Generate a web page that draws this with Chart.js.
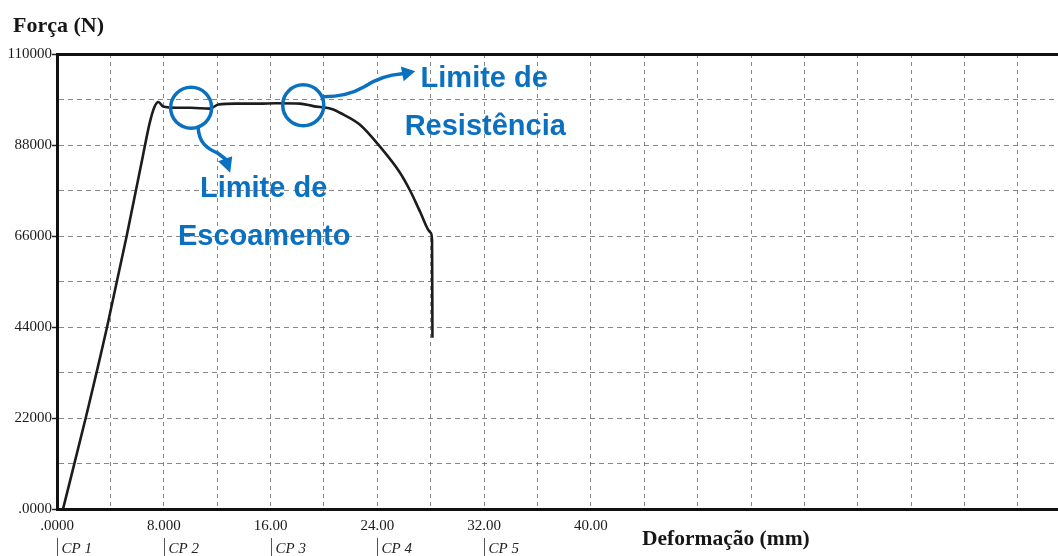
<!DOCTYPE html>
<html>
<head>
<meta charset="utf-8">
<script src="https://cdn.jsdelivr.net/npm/chart.js@4.4.1/dist/chart.umd.min.js"></script>
<style>
  html, body { margin: 0; padding: 0; background: #fff; overflow: hidden; }
  #wrap { position: relative; width: 1058px; height: 556px; }
</style>
</head>
<body>
<div id="wrap"><canvas id="grafico" width="1058" height="556"></canvas></div>
<script>
// Ensaio de tração: força (N) x deformação (mm)
const deformacao = [0.45, 2.15, 3.75, 5.22, 6.45, 6.95, 7.3, 7.6, 7.95, 9.0, 10.0, 11.45, 12.1, 13.4, 15.2, 16.4, 18.2, 19.2, 20.7, 21.2, 22.7, 24.2, 25.7, 26.5, 27.2, 28.0, 28.1, 28.13];
const forca      = [0, 22000, 44000, 66000, 85600, 93400, 97200, 98400, 97300, 97000, 97000, 96800, 97800, 98000, 98000, 98100, 98000, 97400, 96600, 95800, 92900, 87600, 81300, 76700, 71900, 66800, 65100, 41400];

// Eixos
const xGrade   = [0, 4, 8, 12, 16, 20, 24, 28, 32, 36, 40, 44, 48, 52, 56, 60, 64, 68, 72];
const xValores = [0, 8, 16, 24, 32, 40];
const xRotulos = ['.0000', '8.000', '16.00', '24.00', '32.00', '40.00'];
const yGrade   = [0, 11000, 22000, 33000, 44000, 55000, 66000, 77000, 88000, 99000, 110000];
const yValores = [0, 22000, 44000, 66000, 88000, 110000];
const yRotulos = ['.0000', '22000', '44000', '66000', '88000', '110000'];

// Corpos de prova marcados sob o eixo x
const cpPosicao = [0, 8, 16, 24, 32];
const cpRotulo  = ['CP 1', 'CP 2', 'CP 3', 'CP 4', 'CP 5'];

// Pontos destacados na curva
const marcoX = [10.05, 18.45];
const marcoY = [97000, 97600];
const marcoLinha1 = ['Limite de', 'Limite de'];
const marcoLinha2 = ['Escoamento', 'Resistência'];

const SERIF = "'Liberation Serif', 'DejaVu Serif', serif";
const SANS  = "'Liberation Sans', Arial, sans-serif";
const GRADE = 'rgba(85,85,85,0.7)';
const AZUL  = '#0a70c0';

// Setas: início, segmentos bézier (3 pontos cada) e ponta, relativos ao centro do círculo
const setas = [
  { ini: [7, 20], seg: [[8, 35], [16, 41], [26, 45]], fim: [34, 51], ponta: [39, 65] },
  { ini: [20, -8.5], seg: [[37, -8.5], [49, -11.5], [61, -18.5], [73, -26.5], [85, -30.5], [99, -31.5]], fim: [99, -31.5], ponta: [112, -34] }
];
const textos = [
  [[72.5, 89], [73, 137]],
  [[181, -18.3], [182, 29.7]]
];

const anotacoes = {
  id: 'anotacoes',
  afterDatasetsDraw(chart) {
    const { ctx, scales: { x, y } } = chart;
    ctx.save();
    ctx.strokeStyle = AZUL;
    ctx.fillStyle = AZUL;
    ctx.lineCap = 'round';
    ctx.lineJoin = 'round';
    marcoX.forEach((mx, i) => {
      const cx = x.getPixelForValue(mx);
      const cy = y.getPixelForValue(marcoY[i]);
      ctx.lineWidth = 3.5;
      ctx.beginPath();
      ctx.arc(cx, cy, 20.5, 0, Math.PI * 2);
      ctx.stroke();

      const s = setas[i];
      ctx.beginPath();
      ctx.moveTo(cx + s.ini[0], cy + s.ini[1]);
      for (let k = 0; k < s.seg.length; k += 3) {
        const a = s.seg[k], b = s.seg[k + 1], c = s.seg[k + 2];
        ctx.bezierCurveTo(cx + a[0], cy + a[1], cx + b[0], cy + b[1], cx + c[0], cy + c[1]);
      }
      ctx.lineTo(cx + s.fim[0], cy + s.fim[1]);
      ctx.stroke();

      const bx = cx + s.fim[0], by = cy + s.fim[1];
      const tx = cx + s.ponta[0], ty = cy + s.ponta[1];
      const dx = tx - bx, dy = ty - by, len = Math.hypot(dx, dy);
      const nx = -dy / len * 7.5, ny = dx / len * 7.5;
      ctx.beginPath();
      ctx.moveTo(tx, ty);
      ctx.lineTo(bx + nx, by + ny);
      ctx.lineTo(bx - nx, by - ny);
      ctx.closePath();
      ctx.fill();

      ctx.font = 'bold 29px ' + SANS;
      ctx.textAlign = 'center';
      ctx.textBaseline = 'alphabetic';
      const t = textos[i];
      ctx.fillText(marcoLinha1[i], cx + t[0][0], cy + t[0][1]);
      ctx.fillText(marcoLinha2[i], cx + t[1][0], cy + t[1][1]);
    });
    ctx.restore();
  }
};

const legendas = {
  id: 'legendas',
  afterDraw(chart) {
    const { ctx, scales: { x } } = chart;
    ctx.save();
    ctx.fillStyle = '#161616';
    ctx.textAlign = 'left';
    ctx.textBaseline = 'alphabetic';
    ctx.font = 'bold 22px ' + SERIF;
    ctx.fillText('Força (N)', 13, 32);
    ctx.font = 'bold 21.5px ' + SERIF;
    ctx.fillText('Deformação (mm)', 642, 545);

    ctx.font = 'italic 15px ' + SERIF;
    ctx.strokeStyle = '#555';
    ctx.lineWidth = 1;
    cpPosicao.forEach((v, i) => {
      const px = Math.round(x.getPixelForValue(v)) + 0.5;
      ctx.beginPath();
      ctx.moveTo(px, 538);
      ctx.lineTo(px, 556);
      ctx.stroke();
      ctx.fillStyle = '#222';
      ctx.fillText(cpRotulo[i], px + 4, 553);
    });
    ctx.restore();
  }
};

const pontos = deformacao.map((d, i) => ({ x: d, y: forca[i] }));

new Chart(document.getElementById('grafico'), {
  type: 'scatter',
  data: {
    datasets: [{
      data: pontos,
      showLine: true,
      borderColor: '#1c1c1c',
      borderWidth: 2.6,
      pointRadius: 0,
      cubicInterpolationMode: 'monotone',
      fill: false
    }]
  },
  options: {
    responsive: false,
    animation: false,
    layout: { padding: { top: 54, right: 0, left: 0, bottom: 0 } },
    plugins: { legend: { display: false }, tooltip: { enabled: false } },
    scales: {
      x: {
        type: 'linear',
        min: 0,
        max: 75,
        afterBuildTicks: (s) => { s.ticks = xGrade.map(v => ({ value: v })); },
        afterFit: (s) => { s.height = 47; },
        ticks: {
          autoSkip: false,
          maxRotation: 0,
          padding: 8,
          color: '#1a1a1a',
          font: { family: SERIF, size: 15 },
          callback: (v) => { const k = xValores.indexOf(v); return k >= 0 ? xRotulos[k] : ''; }
        },
        grid: {
          drawTicks: false,
          lineWidth: 1,
          color: (c) => (c.tick && c.tick.value === 0 ? 'rgba(0,0,0,0)' : GRADE)
        },
        border: { display: true, color: '#111', width: 3, dash: [4, 4] }
      },
      y: {
        type: 'linear',
        min: 0,
        max: 110000,
        afterBuildTicks: (s) => { s.ticks = yGrade.map(v => ({ value: v })); },
        afterFit: (s) => { s.width = 57; },
        ticks: {
          autoSkip: false,
          padding: 0,
          color: '#1a1a1a',
          font: { family: SERIF, size: 15 },
          callback: (v) => { const k = yValores.indexOf(v); return k >= 0 ? yRotulos[k] : ''; }
        },
        grid: {
          tickLength: 5,
          tickWidth: 1.5,
          tickColor: (c) => (c.tick && yValores.includes(c.tick.value) ? '#222' : 'rgba(0,0,0,0)'),
          lineWidth: (c) => (c.tick && c.tick.value === 110000 ? 3 : 1),
          color: (c) => {
            if (!c.tick) return GRADE;
            if (c.tick.value === 110000) return '#111';
            if (c.tick.value === 0) return 'rgba(0,0,0,0)';
            return GRADE;
          }
        },
        border: {
          display: true,
          color: '#111',
          width: 3,
          dash: (c) => (c.tick && c.tick.value === 110000 ? [] : [5, 4])
        }
      }
    }
  },
  plugins: [anotacoes, legendas]
});
</script>
</body>
</html>
